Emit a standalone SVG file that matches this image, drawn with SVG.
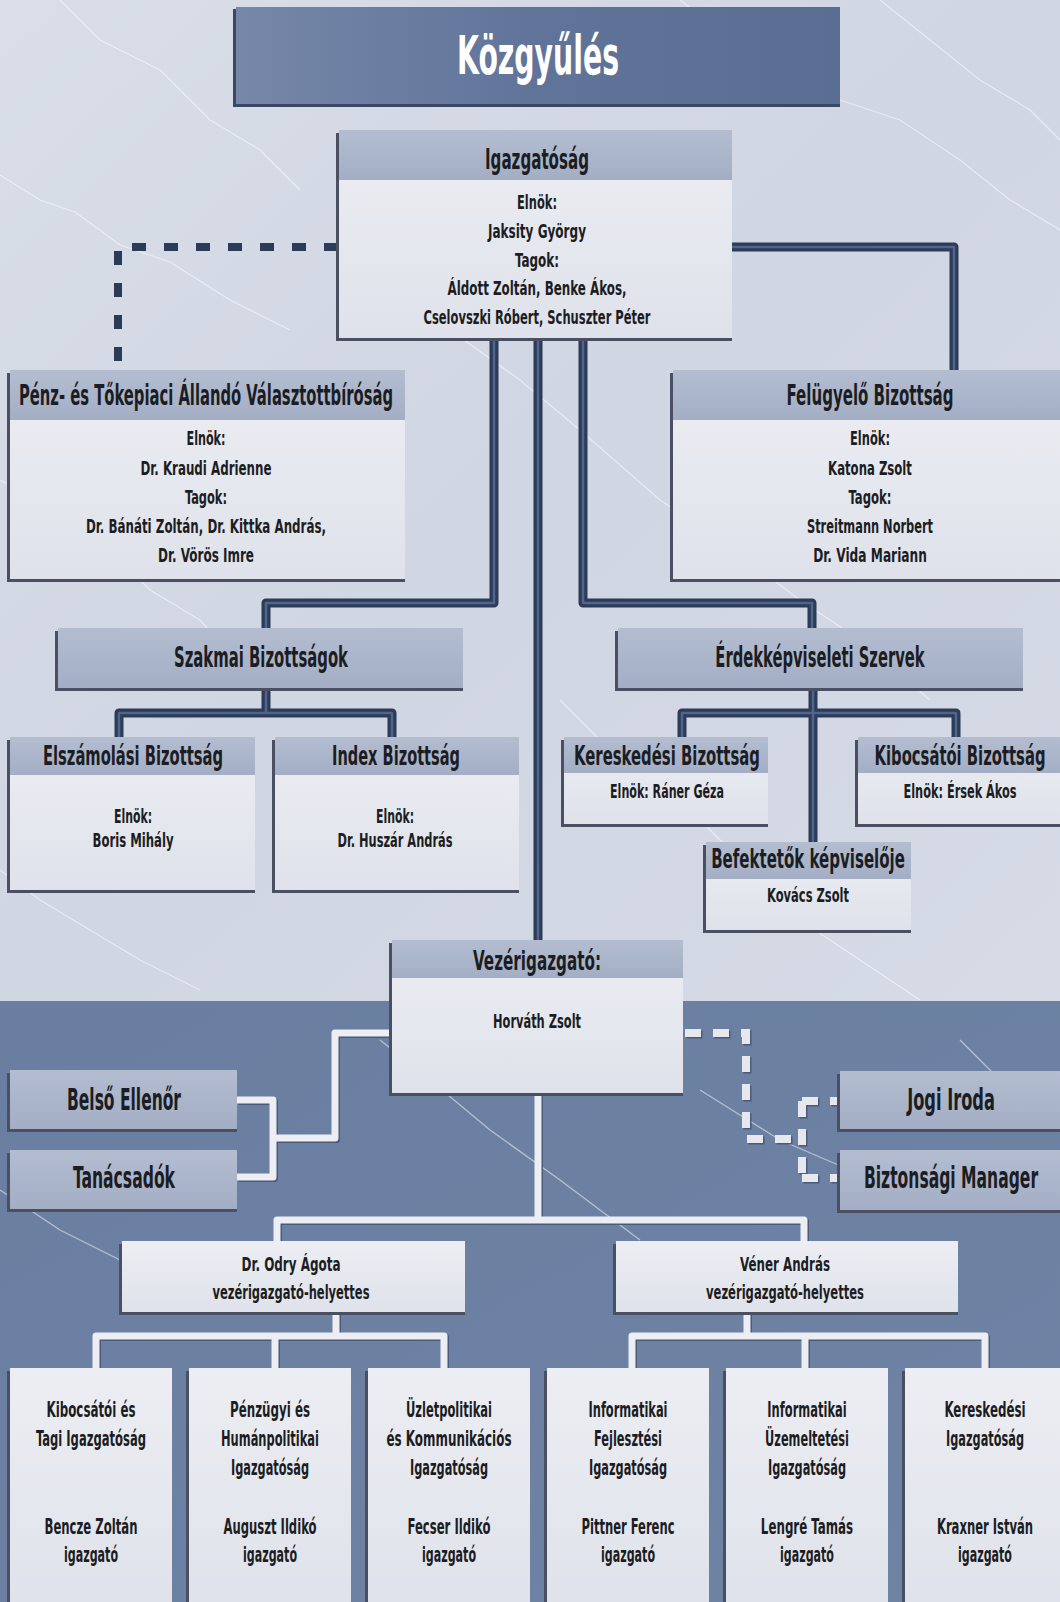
<svg xmlns="http://www.w3.org/2000/svg" width="1060" height="1602" viewBox="0 0 1060 1602">
<defs>
<linearGradient id="gTop" x1="0" y1="0" x2="1" y2="1"><stop offset="0" stop-color="#d9dee8"/><stop offset="0.5" stop-color="#d0d6e2"/><stop offset="1" stop-color="#d6dbe6"/></linearGradient>
<linearGradient id="gBot" x1="0" y1="0" x2="1" y2="1"><stop offset="0" stop-color="#6a7ea1"/><stop offset="1" stop-color="#6f83a5"/></linearGradient>
<linearGradient id="gBody" x1="0" y1="0" x2="0" y2="1"><stop offset="0" stop-color="#eceef3"/><stop offset="1" stop-color="#dfe2ea"/></linearGradient>
<linearGradient id="gHdr" x1="0" y1="0" x2="0" y2="1"><stop offset="0" stop-color="#b4bdd0"/><stop offset="1" stop-color="#a3aec5"/></linearGradient>
<linearGradient id="gKoz" x1="0" y1="0" x2="1" y2="0"><stop offset="0" stop-color="#7687a8"/><stop offset="0.5" stop-color="#60749a"/><stop offset="1" stop-color="#5a6e94"/></linearGradient>
<style>
.t{font-family:"Liberation Sans Narrow","DejaVu Sans Condensed","Liberation Sans",sans-serif;fill:#1c1d22;text-anchor:middle;font-weight:bold}
.h{font-size:28px}
.b{font-size:20px}
.d{font-size:21px}
.sh{fill:#4a5062}
.bd{fill:url(#gBody)}
.hd{fill:url(#gHdr)}
.vein{fill:none;stroke:#ffffff;stroke-width:1.3;opacity:0.5;stroke-linejoin:round}
.nv{fill:none;stroke:#2c3b58;stroke-width:9;stroke-linejoin:round}
.nvh{fill:none;stroke:#51648a;stroke-width:2.5;stroke-linejoin:round}
.nvd{fill:none;stroke:#2c3b58;stroke-width:8;stroke-dasharray:14 18}
.wt{fill:none;stroke:#eceef3;stroke-width:7;stroke-linejoin:round}
.wts{fill:none;stroke:#4a5a78;stroke-width:7;stroke-linejoin:round}
.wd{fill:none;stroke:#e6e8ee;stroke-width:8;stroke-dasharray:16 12}
.wds{fill:none;stroke:#4a5a78;stroke-width:8;stroke-dasharray:16 12}
</style>
</defs>

<g id="background">
<rect x="0" y="0" width="1060" height="1001" fill="url(#gTop)"/>
<rect x="0" y="1001" width="1060" height="601" fill="url(#gBot)"/>
<path class="vein" d="M0 175 L40 200 L75 212 L120 245 L170 262 L230 300 L290 330"/>
<path class="vein" d="M60 0 L100 40 L160 70 L210 120 L260 150 L300 190"/>
<path class="vein" d="M680 0 L720 30 L760 50 L800 75 L840 100 L900 120 L960 160 L1010 200 L1060 230"/>
<path class="vein" d="M880 0 L930 40 L980 80 L1030 110 L1060 140"/>
<path class="vein" d="M450 330 L520 380 L580 430 L660 500 L720 540 L800 600 L860 640 L930 700"/>
<path class="vein" d="M0 480 L40 500 L90 530 L150 590 L200 620 L260 690"/>
<path class="vein" d="M0 870 L40 900 L90 930 L140 960 L200 990"/>
<path class="vein" d="M560 700 L600 740 L650 780 L700 820 L740 860 L800 920 L860 960 L920 1000"/>
<path class="vein" d="M380 1040 L430 1080 L490 1130 L560 1180 L640 1240"/>
<path class="vein" d="M700 1090 L780 1140 L850 1170 L920 1200"/>
<path class="vein" d="M960 1040 L1000 1080 L1060 1110"/>
<path class="vein" d="M0 1190 L60 1230 L120 1260"/>
</g>

<g id="connectors">
<path class="nvd" d="M338 247 H118 V368"/>
<path class="nv" d="M732 247 H954 V370"/>
<path class="nvh" d="M732 247 H954 V370"/>
<path class="nv" d="M494 338 V603 H266 V628"/>
<path class="nvh" d="M494 338 V603 H266 V628"/>
<path class="nv" d="M538 338 V940"/>
<path class="nvh" d="M538 338 V940"/>
<path class="nv" d="M583 338 V603 H812 V628"/>
<path class="nvh" d="M583 338 V603 H812 V628"/>
<path class="nv" d="M266 688 V713 M119 737 V713 H392 V737"/>
<path class="nvh" d="M266 688 V713 M119 737 V713 H392 V737"/>
<path class="nv" d="M813 688 V842 M682 737 V713 H956 V737"/>
<path class="nvh" d="M813 688 V842 M682 737 V713 H956 V737"/>
<g transform="translate(1.5,1.5)">
<path class="wts" d="M392 1033 H335 V1138 H273 M237 1100 H273 V1177 H237"/>
<path class="wts" d="M538 1093 V1220 M277 1241 V1220 H804 V1241"/>
<path class="wts" d="M336 1312 V1336 M96 1368 V1336 H444 V1368 M275 1336 V1368"/>
<path class="wts" d="M747 1312 V1336 M632 1368 V1336 H985 V1368 M805 1336 V1368"/>
<path class="wds" d="M685 1033 H746 V1139 H802 M802 1101 V1178 M802 1101 H840 M802 1178 H840"/>
</g>
<path class="wt" d="M392 1033 H335 V1138 H273 M237 1100 H273 V1177 H237"/>
<path class="wt" d="M538 1093 V1220 M277 1241 V1220 H804 V1241"/>
<path class="wt" d="M336 1312 V1336 M96 1368 V1336 H444 V1368 M275 1336 V1368"/>
<path class="wt" d="M747 1312 V1336 M632 1368 V1336 H985 V1368 M805 1336 V1368"/>
<path class="wd" d="M685 1033 H746 V1139 H802 M802 1101 V1178 M802 1101 H840 M802 1178 H840"/>
</g>

<g id="kozgyules">
<rect x="233" y="9" width="607" height="98" fill="#3a4866"/>
<rect x="236" y="7" width="604" height="97" fill="url(#gKoz)"/>
<text class="t" x="538" y="74" style="font-size:54px;fill:#ffffff" textLength="162" lengthAdjust="spacingAndGlyphs">Közgyűlés</text>
</g>

<g id="igazgatosag">
<rect class="sh" x="336" y="133" width="396" height="208"/>
<rect class="bd" x="339" y="130" width="393" height="208"/>
<rect class="hd" x="339" y="130" width="393" height="50"/>
<text class="t h" x="537" y="169" textLength="104" lengthAdjust="spacingAndGlyphs">Igazgatóság</text>
<text class="t b" x="537" y="209" textLength="40" lengthAdjust="spacingAndGlyphs">Elnök:</text>
<text class="t b" x="537" y="238" textLength="98" lengthAdjust="spacingAndGlyphs">Jaksity György</text>
<text class="t b" x="537" y="267" textLength="44" lengthAdjust="spacingAndGlyphs">Tagok:</text>
<text class="t b" x="537" y="295" textLength="179" lengthAdjust="spacingAndGlyphs">Áldott Zoltán, Benke Ákos,</text>
<text class="t b" x="537" y="324" textLength="227" lengthAdjust="spacingAndGlyphs">Cselovszki Róbert, Schuszter Péter</text>
</g>

<g id="penz-tokepiaci">
<rect class="sh" x="7" y="373" width="398" height="209"/>
<rect class="bd" x="10" y="370" width="395" height="209"/>
<rect class="hd" x="10" y="370" width="395" height="50"/>
<text class="t h" x="206" y="405" textLength="374" lengthAdjust="spacingAndGlyphs">Pénz- és Tőkepiaci Állandó Választottbíróság</text>
<text class="t b" x="206" y="445" textLength="39" lengthAdjust="spacingAndGlyphs">Elnök:</text>
<text class="t b" x="206" y="475" textLength="131" lengthAdjust="spacingAndGlyphs">Dr. Kraudi Adrienne</text>
<text class="t b" x="206" y="504" textLength="42" lengthAdjust="spacingAndGlyphs">Tagok:</text>
<text class="t b" x="206" y="533" textLength="240" lengthAdjust="spacingAndGlyphs">Dr. Bánáti Zoltán, Dr. Kittka András,</text>
<text class="t b" x="206" y="562" textLength="96" lengthAdjust="spacingAndGlyphs">Dr. Vörös Imre</text>
</g>

<g id="felugyelo">
<rect class="sh" x="670" y="373" width="390" height="209"/>
<rect class="bd" x="673" y="370" width="387" height="209"/>
<rect class="hd" x="673" y="370" width="387" height="50"/>
<text class="t h" transform="matrix(0.65 0 0 1 870 405)" textLength="257" lengthAdjust="spacingAndGlyphs">Felügyelő Bizottság</text>
<text class="t b" transform="matrix(0.65 0 0 1 870 445)" textLength="61.5" lengthAdjust="spacingAndGlyphs">Elnök:</text>
<text class="t b" transform="matrix(0.65 0 0 1 870 475)" textLength="129" lengthAdjust="spacingAndGlyphs">Katona Zsolt</text>
<text class="t b" transform="matrix(0.65 0 0 1 870 504)" textLength="66" lengthAdjust="spacingAndGlyphs">Tagok:</text>
<text class="t b" transform="matrix(0.65 0 0 1 870 533)" textLength="194" lengthAdjust="spacingAndGlyphs">Streitmann Norbert</text>
<text class="t b" transform="matrix(0.65 0 0 1 870 562)" textLength="175" lengthAdjust="spacingAndGlyphs">Dr. Vida Mariann</text>
</g>

<g id="szakmai">
<rect class="sh" x="55" y="631" width="408" height="60"/>
<rect class="hd" x="58" y="628" width="405" height="60"/>
<text class="t h" x="261" y="667" textLength="174" lengthAdjust="spacingAndGlyphs">Szakmai Bizottságok</text>
</g>

<g id="erdekkepviseleti">
<rect class="sh" x="615" y="631" width="408" height="60"/>
<rect class="hd" x="618" y="628" width="405" height="60"/>
<text class="t h" transform="matrix(0.65 0 0 1 820 667)" textLength="322" lengthAdjust="spacingAndGlyphs">Érdekképviseleti Szervek</text>
</g>

<g id="elszamolasi">
<rect class="sh" x="7" y="740" width="248" height="153"/>
<rect class="bd" x="10" y="737" width="245" height="153"/>
<rect class="hd" x="10" y="737" width="245" height="38"/>
<text class="t h" x="133" y="765" style="font-size:27px" textLength="180" lengthAdjust="spacingAndGlyphs">Elszámolási Bizottság</text>
<text class="t b" x="133" y="823" textLength="38" lengthAdjust="spacingAndGlyphs">Elnök:</text>
<text class="t b" x="133" y="847" textLength="81" lengthAdjust="spacingAndGlyphs">Boris Mihály</text>
</g>

<g id="index">
<rect class="sh" x="272" y="740" width="247" height="153"/>
<rect class="bd" x="275" y="737" width="244" height="153"/>
<rect class="hd" x="275" y="737" width="244" height="38"/>
<text class="t h" x="396" y="765" style="font-size:27px" textLength="128" lengthAdjust="spacingAndGlyphs">Index Bizottság</text>
<text class="t b" x="395" y="823" textLength="38" lengthAdjust="spacingAndGlyphs">Elnök:</text>
<text class="t b" x="395" y="847" textLength="115" lengthAdjust="spacingAndGlyphs">Dr. Huszár András</text>
</g>

<g id="kereskedesi-biz">
<rect class="sh" x="561" y="740" width="207" height="87"/>
<rect class="bd" x="564" y="737" width="204" height="87"/>
<rect class="hd" x="564" y="737" width="204" height="36"/>
<text class="t h" x="667" y="765" style="font-size:27px" textLength="186" lengthAdjust="spacingAndGlyphs">Kereskedési Bizottság</text>
<text class="t b" x="667" y="798" textLength="114" lengthAdjust="spacingAndGlyphs">Elnök: Ráner Géza</text>
</g>

<g id="kibocsatoi-biz">
<rect class="sh" x="855" y="740" width="205" height="87"/>
<rect class="bd" x="858" y="737" width="202" height="87"/>
<rect class="hd" x="858" y="737" width="202" height="36"/>
<text class="t h" transform="matrix(0.65 0 0 1 960 765)" style="font-size:27px" textLength="263" lengthAdjust="spacingAndGlyphs">Kibocsátói Bizottság</text>
<text class="t b" transform="matrix(0.65 0 0 1 960 798)" textLength="174" lengthAdjust="spacingAndGlyphs">Elnök: Érsek Ákos</text>
</g>

<g id="befektetok">
<rect class="sh" x="703" y="845" width="208" height="88"/>
<rect class="bd" x="706" y="842" width="205" height="88"/>
<rect class="hd" x="706" y="842" width="205" height="37"/>
<text class="t h" transform="matrix(0.65 0 0 1 808 868)" style="font-size:27px" textLength="298" lengthAdjust="spacingAndGlyphs">Befektetők képviselője</text>
<text class="t b" transform="matrix(0.65 0 0 1 808 902)" textLength="126" lengthAdjust="spacingAndGlyphs">Kovács Zsolt</text>
</g>

<g id="vezerigazgato">
<rect class="sh" x="389" y="943" width="294" height="153"/>
<rect class="bd" x="392" y="940" width="291" height="153"/>
<rect class="hd" x="392" y="940" width="291" height="38"/>
<text class="t h" x="537" y="970" style="font-size:27px" textLength="128" lengthAdjust="spacingAndGlyphs">Vezérigazgató:</text>
<text class="t b" x="537" y="1028" style="font-size:19px" textLength="88" lengthAdjust="spacingAndGlyphs">Horváth Zsolt</text>
</g>

<g id="belso-ellenor">
<rect class="sh" x="7" y="1073" width="230" height="59"/>
<rect class="hd" x="10" y="1070" width="227" height="59"/>
<text class="t h" x="124" y="1110" style="font-size:30px" textLength="114" lengthAdjust="spacingAndGlyphs">Belső Ellenőr</text>
</g>

<g id="tanacsadok">
<rect class="sh" x="7" y="1153" width="230" height="59"/>
<rect class="hd" x="10" y="1150" width="227" height="59"/>
<text class="t h" x="124" y="1188" style="font-size:30px" textLength="102" lengthAdjust="spacingAndGlyphs">Tanácsadók</text>
</g>

<g id="jogi-iroda">
<rect class="sh" x="837" y="1074" width="223" height="58"/>
<rect class="hd" x="840" y="1071" width="220" height="58"/>
<text class="t h" transform="matrix(0.65 0 0 1 951 1110)" style="font-size:30px" textLength="135" lengthAdjust="spacingAndGlyphs">Jogi Iroda</text>
</g>

<g id="biztonsagi-manager">
<rect class="sh" x="837" y="1153" width="223" height="60"/>
<rect class="hd" x="840" y="1150" width="220" height="60"/>
<text class="t h" transform="matrix(0.65 0 0 1 951 1188)" style="font-size:30px" textLength="268" lengthAdjust="spacingAndGlyphs">Biztonsági Manager</text>
</g>

<g id="odry">
<rect class="sh" x="119" y="1244" width="346" height="71"/>
<rect class="bd" x="122" y="1241" width="343" height="71"/>
<text class="t b" x="291" y="1271" textLength="99" lengthAdjust="spacingAndGlyphs">Dr. Odry Ágota</text>
<text class="t b" x="291" y="1299" textLength="157" lengthAdjust="spacingAndGlyphs">vezérigazgató-helyettes</text>
</g>

<g id="vener">
<rect class="sh" x="613" y="1244" width="345" height="71"/>
<rect class="bd" x="616" y="1241" width="342" height="71"/>
<text class="t b" x="785" y="1271" textLength="90" lengthAdjust="spacingAndGlyphs">Véner András</text>
<text class="t b" x="785" y="1299" textLength="158" lengthAdjust="spacingAndGlyphs">vezérigazgató-helyettes</text>
</g>

<g id="kibocsatoi-igazgatosag">
<rect class="sh" x="7" y="1371" width="165" height="240"/>
<rect class="bd" x="10" y="1368" width="162" height="240"/>
<text class="t d" x="91" y="1417" textLength="89" lengthAdjust="spacingAndGlyphs">Kibocsátói és</text>
<text class="t d" x="91" y="1446" textLength="110" lengthAdjust="spacingAndGlyphs">Tagi Igazgatóság</text>
<text class="t d" x="91" y="1534" textLength="93" lengthAdjust="spacingAndGlyphs">Bencze Zoltán</text>
<text class="t d" x="91" y="1562" textLength="54" lengthAdjust="spacingAndGlyphs">igazgató</text>
</g>

<g id="penzugyi-igazgatosag">
<rect class="sh" x="186" y="1371" width="165" height="240"/>
<rect class="bd" x="189" y="1368" width="162" height="240"/>
<text class="t d" x="270" y="1417" textLength="80" lengthAdjust="spacingAndGlyphs">Pénzügyi és</text>
<text class="t d" x="270" y="1446" textLength="98" lengthAdjust="spacingAndGlyphs">Humánpolitikai</text>
<text class="t d" x="270" y="1475" textLength="78" lengthAdjust="spacingAndGlyphs">Igazgatóság</text>
<text class="t d" x="270" y="1534" textLength="93" lengthAdjust="spacingAndGlyphs">Auguszt Ildikó</text>
<text class="t d" x="270" y="1562" textLength="54" lengthAdjust="spacingAndGlyphs">igazgató</text>
</g>

<g id="uzletpolitikai-igazgatosag">
<rect class="sh" x="365" y="1371" width="165" height="240"/>
<rect class="bd" x="368" y="1368" width="162" height="240"/>
<text class="t d" x="449" y="1417" textLength="86" lengthAdjust="spacingAndGlyphs">Üzletpolitikai</text>
<text class="t d" x="449" y="1446" textLength="125" lengthAdjust="spacingAndGlyphs">és Kommunikációs</text>
<text class="t d" x="449" y="1475" textLength="78" lengthAdjust="spacingAndGlyphs">Igazgatóság</text>
<text class="t d" x="449" y="1534" textLength="83" lengthAdjust="spacingAndGlyphs">Fecser Ildikó</text>
<text class="t d" x="449" y="1562" textLength="54" lengthAdjust="spacingAndGlyphs">igazgató</text>
</g>

<g id="inf-fejlesztesi-igazgatosag">
<rect class="sh" x="544" y="1371" width="165" height="240"/>
<rect class="bd" x="547" y="1368" width="162" height="240"/>
<text class="t d" x="628" y="1417" textLength="79" lengthAdjust="spacingAndGlyphs">Informatikai</text>
<text class="t d" x="628" y="1446" textLength="68" lengthAdjust="spacingAndGlyphs">Fejlesztési</text>
<text class="t d" x="628" y="1475" textLength="78" lengthAdjust="spacingAndGlyphs">Igazgatóság</text>
<text class="t d" x="628" y="1534" textLength="93" lengthAdjust="spacingAndGlyphs">Pittner Ferenc</text>
<text class="t d" x="628" y="1562" textLength="54" lengthAdjust="spacingAndGlyphs">igazgató</text>
</g>

<g id="inf-uzemeltetesi-igazgatosag">
<rect class="sh" x="723" y="1371" width="165" height="240"/>
<rect class="bd" x="726" y="1368" width="162" height="240"/>
<text class="t d" transform="matrix(0.65 0 0 1 807 1417)" textLength="122" lengthAdjust="spacingAndGlyphs">Informatikai</text>
<text class="t d" transform="matrix(0.65 0 0 1 807 1446)" textLength="129" lengthAdjust="spacingAndGlyphs">Üzemeltetési</text>
<text class="t d" transform="matrix(0.65 0 0 1 807 1475)" textLength="120" lengthAdjust="spacingAndGlyphs">Igazgatóság</text>
<text class="t d" transform="matrix(0.65 0 0 1 807 1534)" textLength="142" lengthAdjust="spacingAndGlyphs">Lengré Tamás</text>
<text class="t d" transform="matrix(0.65 0 0 1 807 1562)" textLength="83" lengthAdjust="spacingAndGlyphs">igazgató</text>
</g>

<g id="kereskedesi-igazgatosag">
<rect class="sh" x="902" y="1371" width="158" height="240"/>
<rect class="bd" x="905" y="1368" width="155" height="240"/>
<text class="t d" transform="matrix(0.65 0 0 1 985 1417)" textLength="125" lengthAdjust="spacingAndGlyphs">Kereskedési</text>
<text class="t d" transform="matrix(0.65 0 0 1 985 1446)" textLength="120" lengthAdjust="spacingAndGlyphs">Igazgatóság</text>
<text class="t d" transform="matrix(0.65 0 0 1 985 1534)" textLength="148" lengthAdjust="spacingAndGlyphs">Kraxner István</text>
<text class="t d" transform="matrix(0.65 0 0 1 985 1562)" textLength="83" lengthAdjust="spacingAndGlyphs">igazgató</text>
</g>
</svg>
